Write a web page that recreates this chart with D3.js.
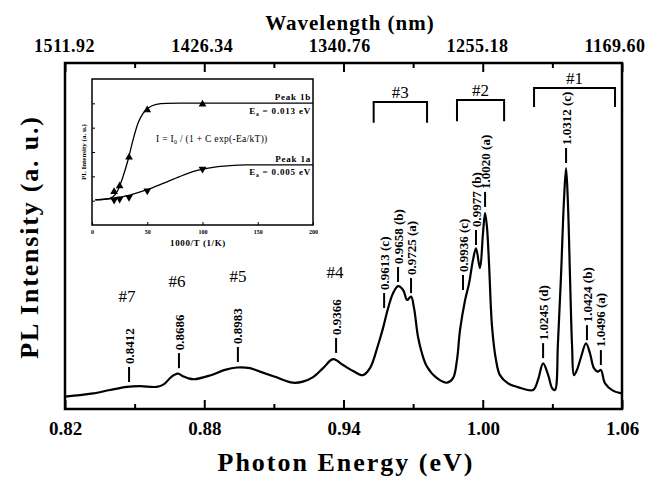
<!DOCTYPE html>
<html>
<head>
<meta charset="utf-8">
<script src="https://cdn.jsdelivr.net/npm/d3@7"></script>
<style>
  body { margin: 0; background: #fff; }
  svg { display: block; font-family: "Liberation Serif", "DejaVu Serif", serif; }
</style>
</head>
<body>
<div id="chart"></div>
<script>
// main PL spectrum (photon energy in eV, intensity in a.u.)
var energy = [0.8200, 0.8265, 0.8321, 0.8394, 0.8467, 0.8523, 0.8596, 0.8627, 0.8652, 0.8670,
  0.8687, 0.8708, 0.8730, 0.8756, 0.8825, 0.8889, 0.8941, 0.8997, 0.9040, 0.9105,
  0.9182, 0.9225, 0.9269, 0.9312, 0.9355, 0.9398, 0.9441, 0.9484, 0.9514, 0.9549,
  0.9570, 0.9592, 0.9613, 0.9635, 0.9657, 0.9674, 0.9691, 0.9704, 0.9721, 0.9738,
  0.9760, 0.9803, 0.9846, 0.9872, 0.9889, 0.9902, 0.9924, 0.9941, 0.9958, 0.9971,
  0.9988, 1.0001, 1.0010, 1.0018, 1.0027, 1.0040, 1.0057, 1.0074, 1.0109, 1.0148,
  1.0217, 1.0238, 1.0260, 1.0282, 1.0299, 1.0311, 1.0324, 1.0337, 1.0350, 1.0359,
  1.0367, 1.0376, 1.0385, 1.0393, 1.0406, 1.0424, 1.0445, 1.0462, 1.0479, 1.0496,
  1.0509, 1.0527, 1.0561, 1.0600];
var intensity = [3.6, 4.0, 4.5, 5.5, 6.4, 6.6, 6.4, 7.2, 8.9, 9.8,
  10.2, 9.5, 8.9, 8.6, 9.7, 11.3, 12.0, 11.8, 10.8, 9.3,
  7.6, 7.9, 9.2, 11.8, 14.4, 12.7, 11.0, 9.8, 11.8, 18.5,
  23.3, 29.1, 33.4, 35.5, 34.4, 31.5, 32.5, 29.1, 20.9, 16.1,
  12.2, 8.9, 7.6, 8.9, 14.2, 22.8, 31.5, 36.3, 43.1, 46.4,
  40.7, 50.8, 56.6, 52.7, 42.1, 23.8, 14.2, 9.8, 7.4, 6.4,
  5.5, 8.4, 13.2, 9.8, 6.0, 5.5, 19.0, 38.2, 60.4, 69.6,
  59.5, 38.2, 18.0, 9.8, 11.3, 15.1, 19.0, 16.1, 11.8, 10.8,
  11.3, 7.4, 5.3, 4.5];

var energyTicks = [0.82, 0.88, 0.94, 1.00, 1.06];
var energyMinor = [0.85, 0.91, 0.97, 1.03];
var wavelengthLabels = ["1511.92", "1426.34", "1340.76", "1255.18", "1169.60"];

// peak labels: text, energy of the marker, intensity at the marker foot
var peakText = ["0.8412", "0.8686", "0.8983", "0.9366", "0.9613 (c)", "0.9658 (b)", "0.9725 (a)",
  "0.9936 (c)", "0.9977 (b)", "1.0020 (a)", "1.0245 (d)", "1.0312 (c)", "1.0424 (b)", "1.0496 (a)"];
var peakE = [0.8476, 0.8691, 0.8945, 0.9368, 0.9575, 0.9635, 0.9691,
  0.9915, 0.9971, 1.0010, 1.0260, 1.0359, 1.0449, 1.0509];
var peakI = [7.8, 11.8, 13.6, 16.2, 29.2, 36.7, 33.5,
  34.4, 47.4, 58.4, 14.7, 71.1, 19.9, 12.7];

// single group labels
var groupText = ["#7", "#6", "#5", "#4"];
var groupE = [0.8467, 0.8683, 0.8945, 0.9363];
var groupI = [30.9, 35.3, 36.7, 37.9];

// bracketed groups
var bracketText = ["#3", "#2", "#1"];
var bracketFrom = [0.9530, 0.9889, 1.0221];
var bracketTo = [0.9760, 1.0092, 1.0570];
var bracketTop = [88.7, 89.3, 92.8];
var bracketFoot = [82.7, 83.2, 87.3];

// inset: integrated intensity vs 1000/T
var invT = [20, 25, 33.5, 50, 100];
var peak1b = [1.37, 1.60, 2.78, 4.73, 4.96];
var peak1a = [1.03, 1.07, 1.14, 1.41, 2.30];
var fitX1b = [3, 13, 19, 23.5, 28.1, 32.6, 37.1, 41.6, 46.2, 50.7, 58.2, 67.3, 79.3, 200];
var fit1b = [1.03, 1.06, 1.16, 1.44, 1.99, 2.67, 3.49, 4.18, 4.59, 4.80, 4.96, 5.00, 5.01, 5.01];
var fitX1a = [3, 19, 34.1, 49.2, 64.3, 79.3, 94.4, 109.5, 124.6, 139.7, 200];
var fit1a = [1.03, 1.10, 1.23, 1.44, 1.71, 1.99, 2.23, 2.37, 2.44, 2.47, 2.47];
var insetTicks = [0, 50, 100, 150, 200];

var W = 648, H = 479;
var svg = d3.select("#chart").append("svg").attr("width", W).attr("height", H);

var x = d3.scaleLinear().domain([0.82, 1.06]).range([65, 622]);
var y = d3.scaleLinear().domain([0, 100]).range([409, 63]);
// wavelength labels sit evenly spaced, slightly inside the right edge
var xWave = d3.scalePoint().domain(wavelengthLabels).range([64.5, 615]);

// axes
var xAxis = d3.axisBottom(x).tickValues(energyTicks).tickFormat(d3.format(".2f"))
  .tickSizeInner(-9).tickSizeOuter(0).tickPadding(13);
var xMinor = d3.axisBottom(x).tickValues(energyMinor).tickFormat("").tickSizeInner(-5).tickSizeOuter(0);
var topAxis = d3.axisTop(x).tickValues(energyTicks).tickFormat("")
  .tickSizeInner(-9).tickSizeOuter(0);
var topMinor = d3.axisTop(x).tickValues(energyMinor).tickFormat("").tickSizeInner(-5).tickSizeOuter(0);

function styleAxis(g) {
  g.select(".domain").remove();
  g.selectAll(".tick line").attr("stroke", "#000").attr("stroke-width", 2);
  g.selectAll(".tick text").attr("fill", "#000")
    .style("font-family", "'Liberation Serif', serif")
    .style("font-weight", "bold").style("font-size", "19px");
}
svg.append("g").attr("transform", "translate(0,409)").call(xAxis).call(styleAxis);
svg.append("g").attr("transform", "translate(0,409)").call(xMinor).call(styleAxis);
svg.append("g").attr("transform", "translate(0,63)").call(topAxis).call(styleAxis);
svg.append("g").attr("transform", "translate(0,63)").call(topMinor).call(styleAxis);

svg.selectAll(".wave").data(wavelengthLabels).enter().append("text")
  .attr("x", function(d) { return xWave(d); })
  .attr("y", 52)
  .attr("text-anchor", "middle")
  .style("font-weight", "bold").style("font-size", "18px").style("letter-spacing", "0.5px")
  .text(function(d) { return d; });

svg.append("rect")
  .attr("x", 65).attr("y", 63).attr("width", 557).attr("height", 346)
  .attr("fill", "none").attr("stroke", "#000").attr("stroke-width", 2.5);

// titles
svg.append("text").attr("x", 346).attr("y", 471).attr("text-anchor", "middle")
  .style("font-weight", "bold").style("font-size", "26px").style("letter-spacing", "2px")
  .text("Photon Energy (eV)");
svg.append("text").attr("x", 350).attr("y", 30).attr("text-anchor", "middle")
  .style("font-weight", "bold").style("font-size", "21px").style("letter-spacing", "1px")
  .text("Wavelength (nm)");
svg.append("text").attr("transform", "translate(38,237) rotate(-90)").attr("text-anchor", "middle")
  .style("font-weight", "bold").style("font-size", "26px").style("letter-spacing", "1.8px")
  .text("PL Intensity (a. u.)");

// spectrum
var spectrum = energy.map(function(e, i) { return { e: e, v: intensity[i] }; });
var line = d3.line()
  .x(function(d) { return x(d.e); })
  .y(function(d) { return y(d.v); })
  .curve(d3.curveCatmullRom.alpha(0.5));
svg.append("path").datum(spectrum)
  .attr("d", line)
  .attr("fill", "none").attr("stroke", "#000").attr("stroke-width", 2.2);

// peak markers
var peaks = svg.append("g");
peakText.forEach(function(t, i) {
  var px = x(peakE[i]), py = y(peakI[i]);
  peaks.append("line")
    .attr("x1", px).attr("x2", px).attr("y1", py).attr("y2", py - 15)
    .attr("stroke", "#000").attr("stroke-width", 2);
  peaks.append("text")
    .attr("transform", "translate(" + px + "," + (py - 18) + ") rotate(-90)")
    .attr("dy", "0.35em")
    .style("font-weight", "bold").style("font-size", "13px")
    .text(t);
});

groupText.forEach(function(t, i) {
  svg.append("text").attr("x", x(groupE[i])).attr("y", y(groupI[i]))
    .attr("text-anchor", "middle").style("font-size", "17px").text(t);
});

bracketText.forEach(function(t, i) {
  var x0 = x(bracketFrom[i]), x1 = x(bracketTo[i]);
  var yt = y(bracketTop[i]), yb = y(bracketFoot[i]);
  svg.append("path")
    .attr("d", "M" + x0 + "," + yb + "V" + yt + "H" + x1 + "V" + yb)
    .attr("fill", "none").attr("stroke", "#000").attr("stroke-width", 2);
  svg.append("text").attr("x", (x0 + x1) / 2).attr("y", yt - 4)
    .attr("text-anchor", "middle").style("font-size", "17px").text(t);
});

// inset
var xi = d3.scaleLinear().domain([0, 200]).range([92, 313]);
var yi = d3.scaleLinear().domain([0, 6]).range([225, 79]);
var inset = svg.append("g");
inset.append("rect").attr("x", 92).attr("y", 79).attr("width", 221).attr("height", 146)
  .attr("fill", "#fff").attr("stroke", "#000").attr("stroke-width", 1.5);

var xiAxis = d3.axisBottom(xi).tickValues(insetTicks).tickSizeInner(-3).tickSizeOuter(0).tickPadding(5);
inset.append("g").attr("transform", "translate(0,225)").call(xiAxis)
  .call(function(g) {
    g.select(".domain").remove();
    g.selectAll(".tick line").attr("stroke", "#000");
    g.selectAll(".tick text").attr("fill", "#000").style("font-family", "'Liberation Serif', serif")
      .style("font-weight", "bold").style("font-size", "6px");
  });
var yiAxis = d3.axisLeft(yi).tickValues([1, 2, 3, 4, 5]).tickFormat("").tickSizeInner(-3).tickSizeOuter(0);
inset.append("g").attr("transform", "translate(92,0)").call(yiAxis)
  .call(function(g) {
    g.select(".domain").remove();
    g.selectAll(".tick line").attr("stroke", "#000");
  });

inset.append("text").attr("x", 198).attr("y", 246).attr("text-anchor", "middle")
  .style("font-weight", "bold").style("font-size", "9px").style("letter-spacing", "0.6px")
  .text("1000/T (1/K)");
inset.append("text").attr("transform", "translate(86,152) rotate(-90)").attr("text-anchor", "middle")
  .style("font-weight", "bold").style("font-size", "7px").text("PL Intensity (a. u.)");

var fitLine = d3.line()
  .x(function(d) { return xi(d[0]); })
  .y(function(d) { return yi(d[1]); })
  .curve(d3.curveMonotoneX);
inset.append("path").datum(d3.zip(fitX1b, fit1b)).attr("d", fitLine)
  .attr("fill", "none").attr("stroke", "#000").attr("stroke-width", 1.3);
inset.append("path").datum(d3.zip(fitX1a, fit1a)).attr("d", fitLine)
  .attr("fill", "none").attr("stroke", "#000").attr("stroke-width", 1.3);

var tri = d3.symbol().type(d3.symbolTriangle).size(26);
inset.selectAll(".up").data(d3.zip(invT, peak1b)).enter().append("path")
  .attr("transform", function(d) { return "translate(" + xi(d[0]) + "," + yi(d[1]) + ")"; })
  .attr("d", tri).attr("fill", "#000");
inset.selectAll(".down").data(d3.zip(invT, peak1a)).enter().append("path")
  .attr("transform", function(d) { return "translate(" + xi(d[0]) + "," + yi(d[1]) + ") rotate(180)"; })
  .attr("d", tri).attr("fill", "#000");

function boldInset(yy) {
  return inset.append("text").attr("x", 311).attr("y", yy).attr("text-anchor", "end")
    .style("font-weight", "bold").style("font-size", "9px").style("letter-spacing", "0.8px");
}
function eaLabel(yy, val) {
  var t = boldInset(yy);
  t.append("tspan").text("E");
  t.append("tspan").attr("dy", 2).style("font-size", "5.5px").text("a");
  t.append("tspan").attr("dy", -2).text(" = " + val + " eV");
}
boldInset(100).text("Peak 1b");
eaLabel(114, "0.013");
boldInset(162).text("Peak 1a");
eaLabel(175, "0.005");

var f = inset.append("text").attr("x", 156).attr("y", 142)
  .style("font-size", "9.5px").style("letter-spacing", "0.3px");
f.append("tspan").text("I = I");
f.append("tspan").attr("dy", 2).style("font-size", "6px").text("0");
f.append("tspan").attr("dy", -2).text(" / (1 + C exp(-Ea/kT))");
</script>
</body>
</html>
